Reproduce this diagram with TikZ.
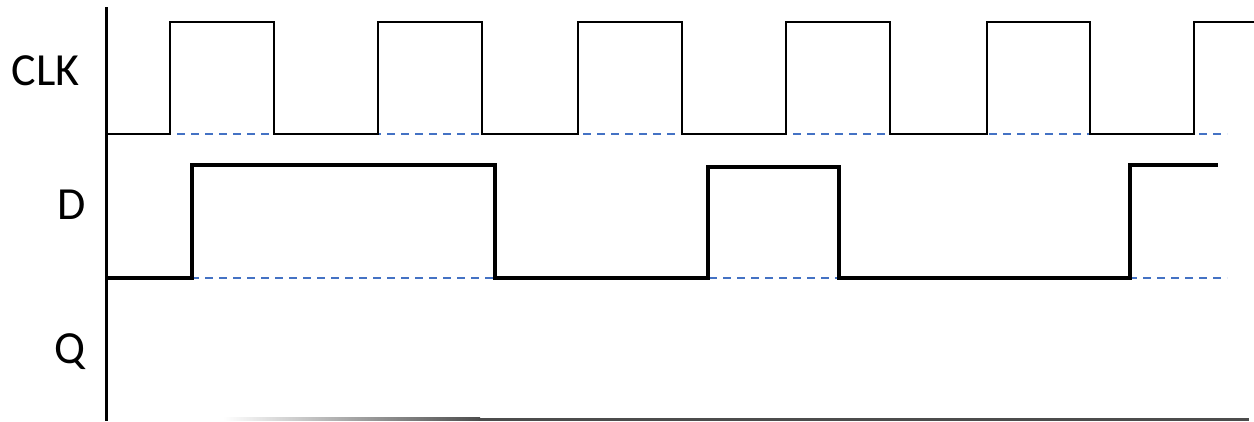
\documentclass[tikz,border=0pt]{standalone}
\usepackage{fontspec}
\setmainfont{Carlito}
\definecolor{dashblue}{HTML}{4472C4}
\tikzset{
  lbl/.style={font=\fontsize{46}{52}\selectfont, inner sep=0pt, anchor=base},
  ref/.style={draw=dashblue, line width=2.6pt, dash pattern=on 8pt off 6pt},
  clksig/.style={draw=black, line width=2.6pt, line join=miter},
  dsig/.style={draw=black, line width=3.6pt, line join=miter},
  axis/.style={draw=black, line width=3pt}
}
\begin{document}
\begin{tikzpicture}[x=1pt,y=-1pt]
\useasboundingbox (0,0) rectangle (1254,421);
% labels
\node[lbl] (clk) at (45.5,85) {CLK};
\node[lbl] (d) at (71.5,219) {D};
\node[lbl] (q) at (70,363) {Q};
% reference dashed lines
\draw[ref] (107,134) -- (1227,134);
\draw[ref] (107,278) -- (1227,278);
% CLK waveform
\draw[clksig] (107,134) -- (170,134) -- (170,22) -- (274,22) -- (274,134)
  -- (378,134) -- (378,22) -- (482,22) -- (482,134)
  -- (578,134) -- (578,22) -- (682,22) -- (682,134)
  -- (786,134) -- (786,22) -- (890,22) -- (890,134)
  -- (987,134) -- (987,22) -- (1090,22) -- (1090,134)
  -- (1194,134) -- (1194,22) -- (1256,22);
% D waveform
\draw[dsig] (107,278) -- (192,278) -- (192,165) -- (495,165) -- (495,278)
  -- (708,278) -- (708,167) -- (839,167) -- (839,278)
  -- (1130,278) -- (1130,165) -- (1218,165);
% axes
\draw[axis] (106,7) -- (106,421);
\shade[left color=white, right color=black!70] (223,417.5) rectangle (480,420.5);
\fill[black!70] (479,417.5) rectangle (1249,420.5);
\end{tikzpicture}
\end{document}
